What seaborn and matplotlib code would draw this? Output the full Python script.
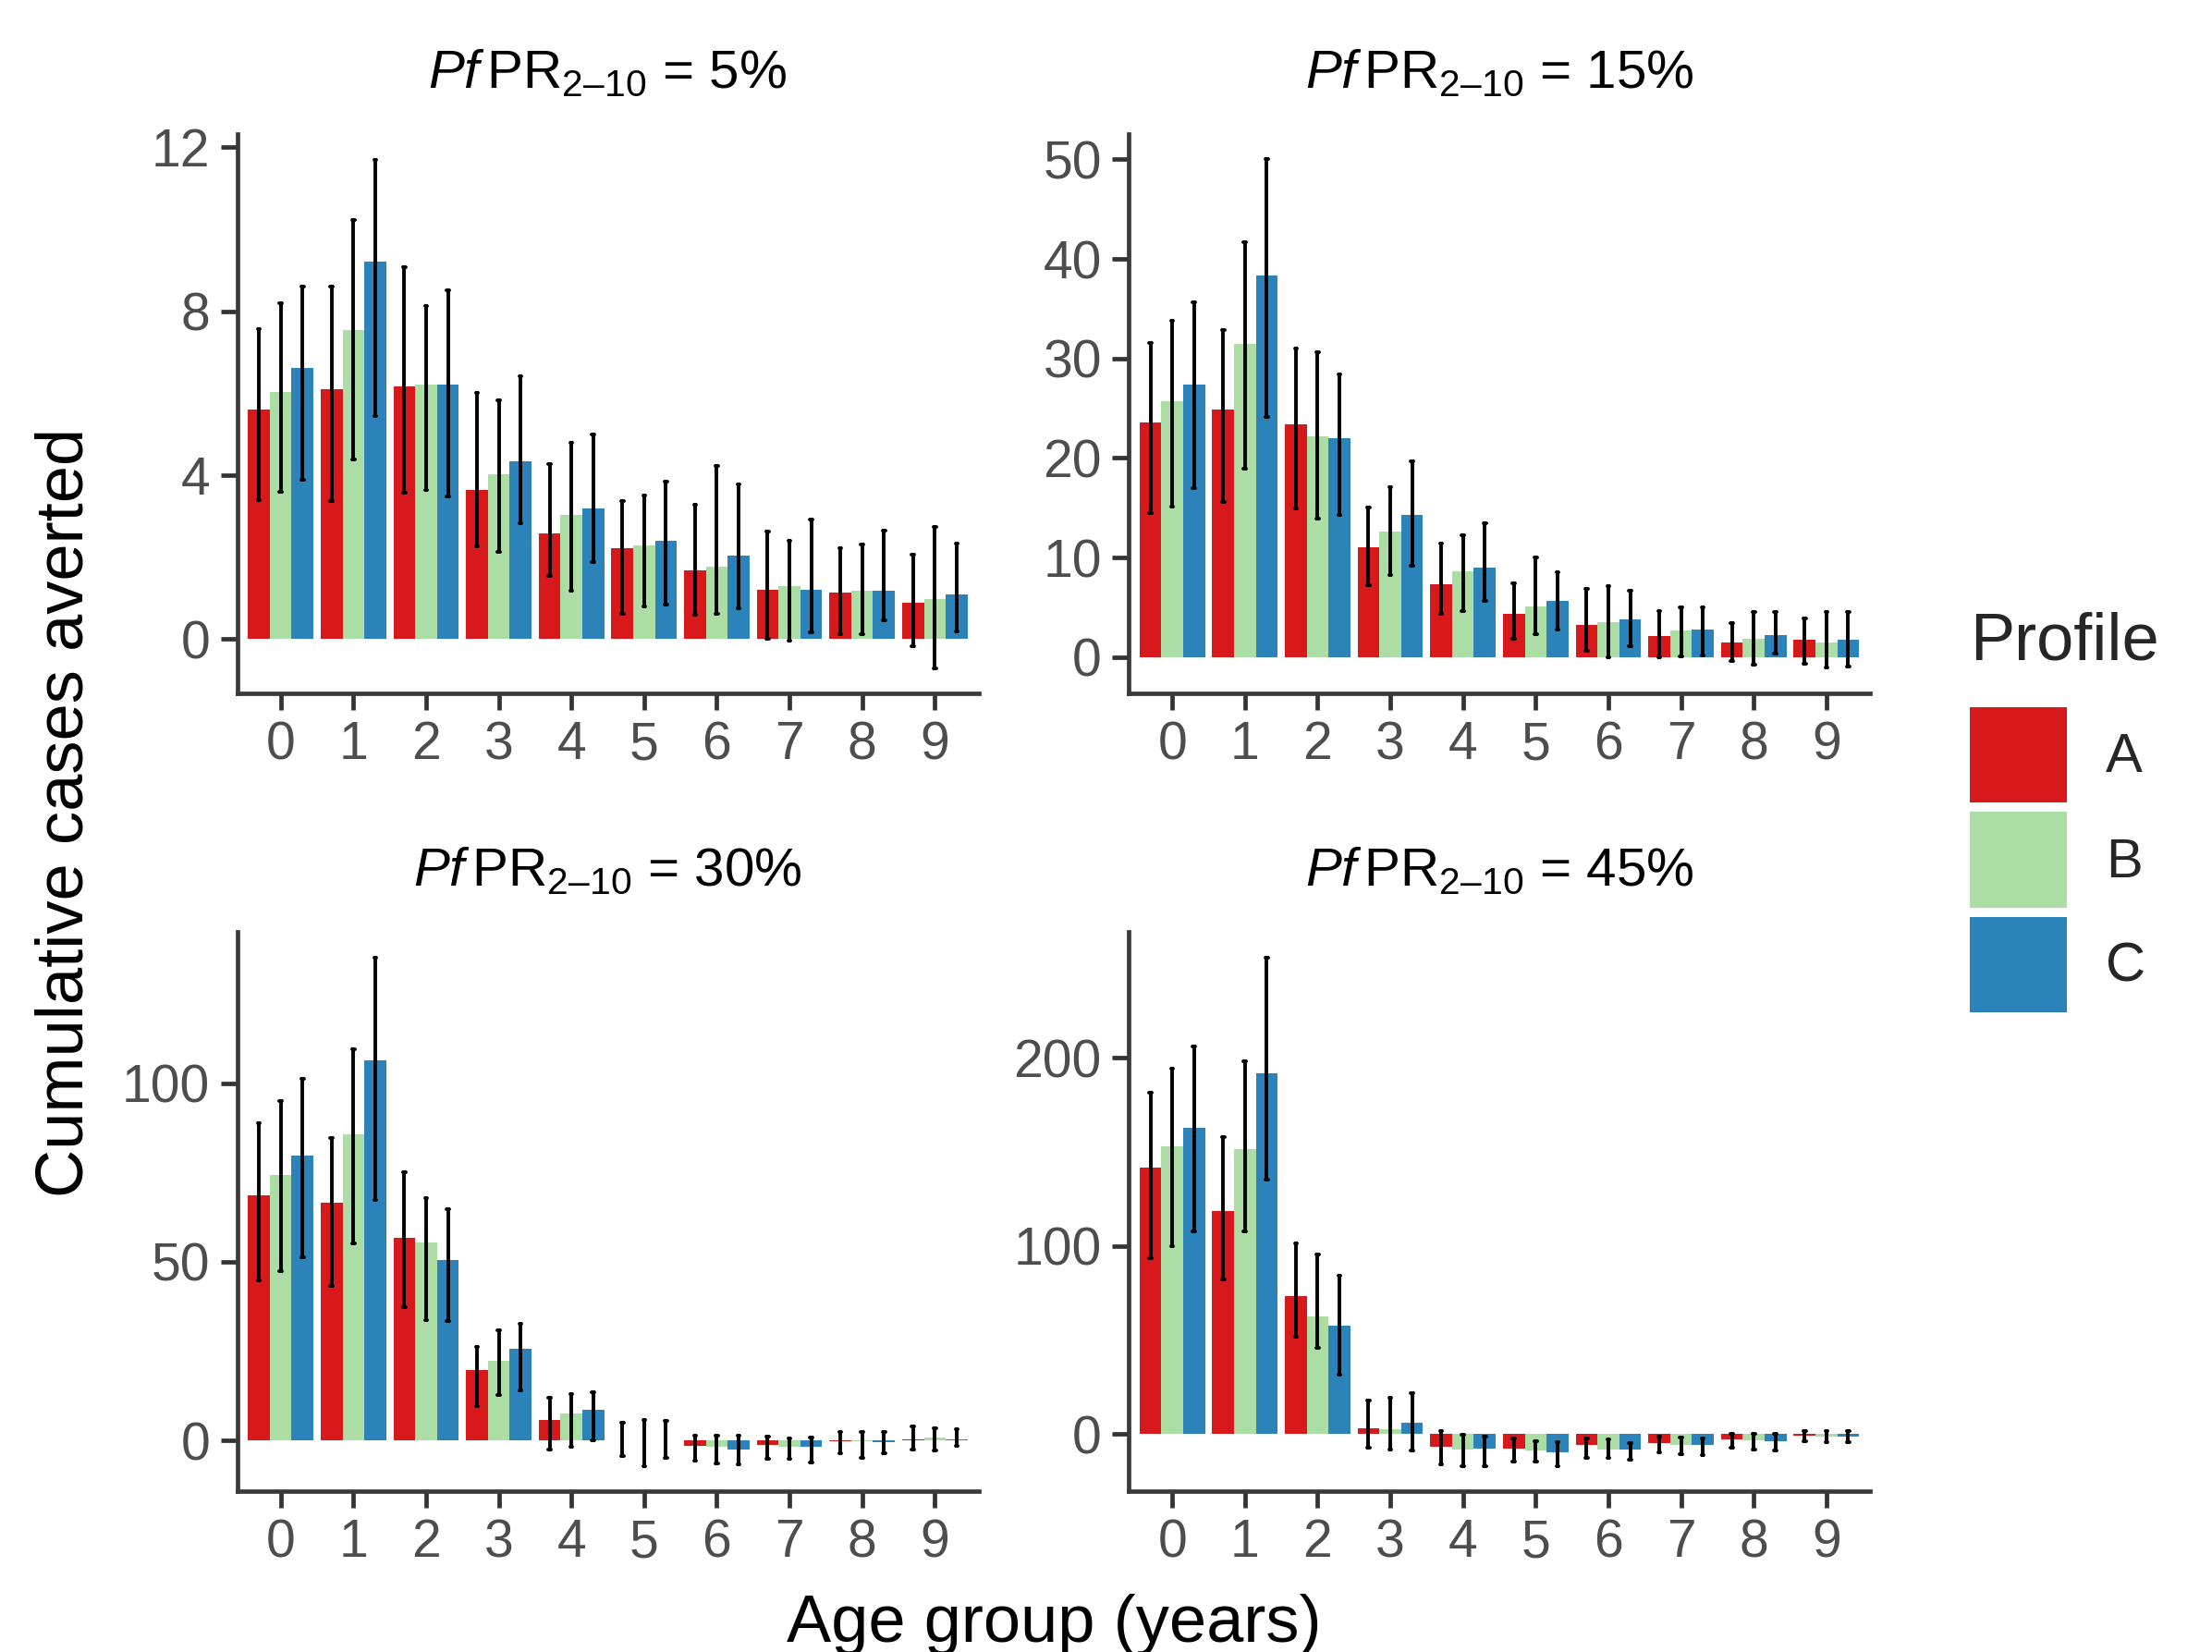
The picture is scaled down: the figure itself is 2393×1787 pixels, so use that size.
import numpy as np
import pandas as pd
import matplotlib
matplotlib.use("Agg")
import matplotlib.pyplot as plt
import seaborn as sns

# ---------------- data ----------------
ages = [0, 1, 2, 3, 4, 5, 6, 7, 8, 9]
profiles = ["A", "B", "C"]
colors = ["#D7191C", "#ABDDA4", "#2B83BA"]
prevalences = ["5%", "15%", "30%", "45%"]

# PfPR 5%
p05_mid = [[5.60, 6.10, 6.17, 3.65, 2.59, 2.23, 1.68, 1.20, 1.14, 0.90],
           [6.03, 7.54, 6.20, 4.02, 3.04, 2.28, 1.78, 1.30, 1.19, 0.98],
           [6.61, 9.22, 6.22, 4.34, 3.19, 2.39, 2.04, 1.21, 1.18, 1.10]]
p05_lo = [[3.40, 3.36, 3.58, 2.27, 1.54, 0.62, 0.59, 0.01, 0.13, -0.17],
          [3.59, 4.38, 3.63, 2.12, 1.19, 0.81, 0.62, -0.03, 0.13, -0.70],
          [3.88, 5.45, 3.49, 2.82, 1.88, 0.85, 0.75, 0.17, 0.46, 0.19]]
p05_hi = [[7.57, 8.60, 9.07, 6.00, 4.28, 3.37, 3.29, 2.63, 2.23, 2.06],
          [8.20, 10.23, 8.12, 5.82, 4.79, 3.51, 4.23, 2.40, 2.31, 2.74],
          [8.59, 11.70, 8.52, 6.42, 5.00, 3.85, 3.77, 2.92, 2.65, 2.34]]

# PfPR 15%
p15_mid = [[23.6, 24.9, 23.4, 11.0, 7.3, 4.3, 3.2, 2.1, 1.5, 1.7],
           [25.7, 31.5, 22.2, 12.6, 8.6, 5.1, 3.5, 2.7, 1.8, 1.5],
           [27.4, 38.3, 22.0, 14.3, 9.0, 5.6, 3.8, 2.8, 2.2, 1.7]]
p15_lo = [[14.5, 15.6, 14.9, 7.2, 4.3, 1.8, 0.6, 0.0, -0.4, -0.7],
          [15.1, 18.9, 13.9, 8.2, 4.6, 2.3, 0.0, 0.1, -0.8, -1.1],
          [17.0, 24.1, 14.3, 9.2, 5.6, 2.8, 1.1, 0.2, 0.3, -1.0]]
p15_hi = [[31.6, 32.9, 31.0, 15.0, 11.4, 7.4, 6.8, 4.6, 3.4, 3.9],
          [33.8, 41.7, 30.6, 17.1, 12.2, 10.0, 7.1, 5.0, 4.5, 4.5],
          [35.6, 50.0, 28.4, 19.7, 13.4, 8.5, 6.7, 5.0, 4.5, 4.5]]

# PfPR 30%
p30_mid = [[68.7, 66.6, 56.8, 19.7, 5.8, -0.1, -1.6, -1.3, -0.2, 0.3],
           [74.3, 85.6, 55.3, 22.2, 7.4, 0.0, -1.9, -1.7, -0.3, 0.7],
           [79.8, 106.4, 50.4, 25.5, 8.6, 0.0, -2.6, -1.9, -0.5, 0.4]]
p30_lo = [[44.8, 43.3, 37.3, 9.5, -2.6, -4.5, -5.7, -5.2, -3.7, -2.7],
          [47.3, 55.1, 33.6, 12.8, -1.7, -7.1, -6.4, -5.2, -4.9, -2.9],
          [51.2, 67.4, 33.3, 14.1, 0.0, -4.8, -6.6, -6.2, -3.7, -1.6]]
p30_hi = [[88.7, 84.6, 75.0, 26.1, 11.8, 4.9, 1.4, 1.1, 2.3, 3.8],
          [95.0, 109.5, 67.9, 30.8, 12.9, 5.6, 1.3, 0.6, 2.3, 3.3],
          [101.1, 135.2, 64.7, 32.5, 13.5, 5.5, 1.3, 0.7, 2.4, 3.1]]

# PfPR 45%
p45_mid = [[141.5, 118.8, 73.3, 3.0, -6.7, -7.6, -5.9, -4.6, -2.8, -0.9],
           [153.0, 151.3, 62.5, 2.8, -8.3, -8.9, -8.1, -5.9, -3.5, -1.1],
           [163.0, 191.7, 57.9, 5.9, -7.8, -9.8, -8.3, -5.9, -3.9, -1.5]]
p45_lo = [[93.6, 82.3, 52.0, -7.4, -15.9, -14.6, -12.4, -9.8, -7.0, -3.7],
          [100.1, 107.7, 46.1, -8.3, -16.8, -14.4, -12.4, -10.7, -8.1, -4.1],
          [107.7, 135.1, 31.6, -8.5, -16.8, -16.8, -13.7, -11.3, -8.7, -4.1]]
p45_hi = [[181.3, 157.8, 101.4, 17.8, 1.7, -2.4, -2.2, -1.5, 0.2, 1.5],
          [194.1, 198.3, 95.3, 19.2, -0.4, -3.7, -2.8, -1.7, 0.2, 1.5],
          [206.3, 253.5, 84.0, 22.0, -1.1, -4.1, -4.6, -2.4, 0.0, 1.5]]

yticks_05 = [0, 4, 8, 12]
yticks_15 = [0, 10, 20, 30, 40, 50]
yticks_30 = [0, 50, 100]
yticks_45 = [0, 100, 200]

panels = [
    ("5%", p05_mid, p05_lo, p05_hi, yticks_05),
    ("15%", p15_mid, p15_lo, p15_hi, yticks_15),
    ("30%", p30_mid, p30_lo, p30_hi, yticks_30),
    ("45%", p45_mid, p45_lo, p45_hi, yticks_45),
]

# ---------------- style ----------------
sns.set_theme(style="ticks")
plt.rcParams["font.family"] = ["Liberation Sans", "DejaVu Sans"]
plt.rcParams["mathtext.fontset"] = "custom"
plt.rcParams["mathtext.rm"] = "Liberation Sans"
plt.rcParams["mathtext.it"] = "Liberation Sans:italic"
plt.rcParams["mathtext.bf"] = "Liberation Sans:bold"

W, H = 2393, 1787
DPI = 200
fig = plt.figure(figsize=(W / DPI, H / DPI), dpi=DPI)

axis_col = "#3a3a3a"
tick_lab_col = "#4D4D4D"

lefts = [256.5, 1221]
row_tops = [145, 1008]
ax_w, ax_h = 802, 605
positions = [(lefts[0], row_tops[0]), (lefts[1], row_tops[0]),
             (lefts[0], row_tops[1]), (lefts[1], row_tops[1])]

handles, labels = None, None
for i, (prev, mid, lo, hi, yt) in enumerate(panels):
    rows = []
    for pi, prof in enumerate(profiles):
        for ai, age in enumerate(ages):
            for v in (lo[pi][ai], mid[pi][ai], hi[pi][ai]):
                rows.append({"age": age, "profile": prof, "value": v})
    df = pd.DataFrame(rows)

    lx, ty = positions[i]
    ax = fig.add_axes([lx / W, 1 - (ty + ax_h) / H, ax_w / W, ax_h / H])
    sns.barplot(data=df, x="age", y="value", hue="profile",
                hue_order=profiles, palette=colors, order=ages,
                estimator="median",
                errorbar=lambda v: (v.min(), v.max()),
                width=0.9, saturation=1, linewidth=0,
                capsize=0.1,
                err_kws={"color": "black", "linewidth": 1.4},
                legend=(i == 0), ax=ax)
    if i == 0:
        handles, labels = ax.get_legend_handles_labels()
        ax.get_legend().remove()

    allv = np.array(lo + hi + mid).ravel()
    ymin, ymax = min(allv.min(), 0), allv.max()
    rng = ymax - ymin
    ax.set_ylim(ymin - 0.05 * rng, ymax + 0.05 * rng)
    ax.set_xlim(-0.6, len(ages) - 0.4)
    ax.set_yticks(yt)
    ax.set_yticklabels([str(t) for t in yt])
    ax.set_xlabel("")
    ax.set_ylabel("")
    for s in ("top", "right"):
        ax.spines[s].set_visible(False)
    for s in ("left", "bottom"):
        ax.spines[s].set_color(axis_col)
        ax.spines[s].set_linewidth(1.7)
    ax.tick_params(axis="both", colors="#333333", width=1.7, length=6.5,
                   labelsize=20.5, labelcolor=tick_lab_col, pad=4)
    title = "$\\mathit{Pf}\\,\\mathrm{PR}_{\\mathrm{2\u201310}}$ = " + prev
    ax.set_title(title, fontsize=21, color="black", pad=18)

fig.text(71 / W, 1 - 879 / H, "Cumulative cases averted", rotation=90,
         ha="center", va="center", fontsize=26, color="black")
fig.text(1140 / W, 1 - 1776 / H, "Age group (years)", ha="center",
         va="baseline", fontsize=26, color="black")

for h in handles:
    h.set_linewidth(0)
leg = fig.legend(handles, labels, title="Profile", loc="upper left",
                 bbox_to_anchor=(2131 / W, 1 - 662 / H),
                 bbox_transform=fig.transFigure,
                 frameon=False, fontsize=21.5, title_fontsize=26,
                 handlelength=1.76, handleheight=2.28,
                 labelspacing=0.17, handletextpad=0.7,
                 borderpad=0, borderaxespad=0, alignment="left")
try:
    leg._legend_box.sep = 13
except Exception:
    pass

fig.savefig("out.png", dpi=DPI)
